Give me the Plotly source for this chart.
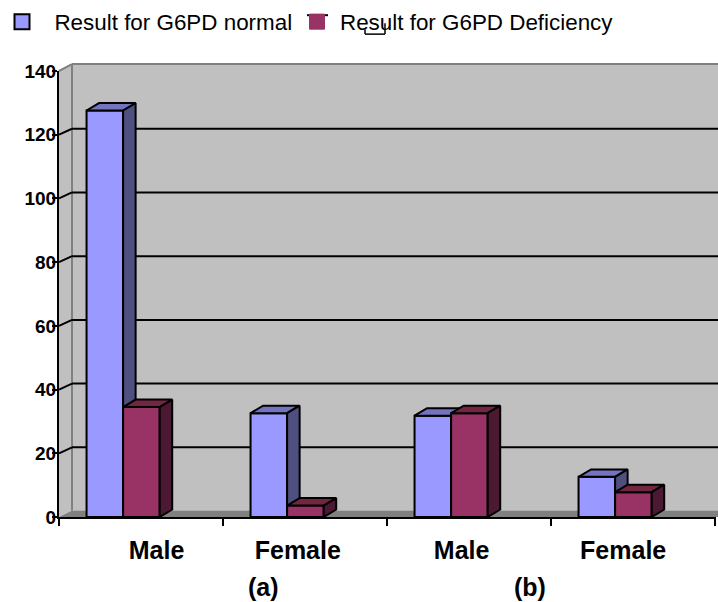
import plotly.graph_objects as go

categories = ["Male", "Female", "Male", "Female"]
panel_labels = ["(a)", "(b)"]
normal_name = "Result for G6PD normal"
deficiency_name = "Result for G6PD Deficiency"
normal_values = [127.6, 32.6, 31.8, 12.6]
deficiency_values = [34.5, 3.6, 32.6, 7.8]
y_ticks = [0, 20, 40, 60, 80, 100, 120, 140]

W, H = 718, 602
L, R, T, B = 59, 716, 70, 517.5
X_UNIT = 164.0
X_MAX = (R - L) / X_UNIT
Y_UNIT = (B - T) / 140.0
BAR_W = 0.223
BAR_OFF = 0.168
DX, DY = 12.5 / X_UNIT, 7.5 / Y_UNIT  # bar depth in data units
LABEL_X = [0.595, 1.456, 2.455, 3.44]
PANEL_X = [1.245, 2.87]

BLUE, BLUE_TOP, BLUE_SIDE = "#9999FF", "#7373BF", "#4F4F80"
RED, RED_TOP, RED_SIDE = "#993366", "#732640", "#4C1933"
WALL, FLOOR, EDGE = "#C0C0C0", "#808080", "#000000"


def px(x):
    return (x - L) / (R - L)


def py(y):
    return (B - y) / (B - T)


def poly(pts, fill, line=None, width=0, layer="below"):
    path = "M" + "L".join(f"{px(x):.5f},{py(y):.5f}" for x, y in pts) + "Z"
    return dict(type="path", xref="paper", yref="paper", path=path, fillcolor=fill,
                line=dict(color=line or fill, width=width), layer=layer)


def seg(x0, y0, x1, y1, color=EDGE, width=2, layer="below"):
    return dict(type="line", xref="paper", yref="paper", x0=px(x0), y0=py(y0), x1=px(x1), y1=py(y1),
                line=dict(color=color, width=width), layer=layer)


shapes = [
    poly([(59, 70), (72, 63), (718, 63), (718, 511), (72, 511), (59, 517.5)], WALL),
    poly([(59, 517.5), (72, 511), (718, 511), (718, 517.5)], FLOOR),
    seg(72, 63, 718, 63, FLOOR, 2),
    seg(72, 63, 72, 511, FLOOR, 2),
    seg(59, 70, 72, 63, FLOOR, 2),
]
for v in y_ticks[1:-1]:
    yy = B - v * Y_UNIT
    shapes.append(seg(59, yy, 72, yy - 6, EDGE, 2))
    shapes.append(seg(72, yy - 6, 718, yy - 6, EDGE, 2))

# stray marks in the legend of the source picture
shapes += [
    seg(307, 14, 328, 14, EDGE, 2, "above"),
    seg(365, 28, 365, 33, EDGE, 1.5, "above"),
    seg(385, 22, 385, 33, EDGE, 1.5, "above"),
    seg(365, 33, 385, 33, EDGE, 1.5, "above"),
]


def faces(values, shift, top, side, xa, ya):
    out = []
    for i, v in enumerate(values):
        x0 = i + BAR_OFF + shift
        x1 = x0 + BAR_W
        for xs, ys, c in [
            ([x0, x0 + DX, x1 + DX, x1, x0], [v, v + DY, v + DY, v, v], top),
            ([x1, x1 + DX, x1 + DX, x1, x1], [v, v + DY, DY, 0, v], side),
        ]:
            out.append(go.Scatter(x=xs, y=ys, mode="lines", fill="toself", fillcolor=c,
                                  line=dict(color=EDGE, width=2), xaxis=xa, yaxis=ya,
                                  showlegend=False, hoverinfo="skip", cliponaxis=False))
    return out


fig = go.Figure()
fig.add_trace(go.Bar(x=[i + BAR_OFF for i in range(4)], y=normal_values, width=BAR_W, offset=0,
                     marker=dict(color=BLUE, line=dict(color=EDGE, width=2)), showlegend=False,
                     xaxis="x", yaxis="y", cliponaxis=False))
for t in faces(normal_values, 0, BLUE_TOP, BLUE_SIDE, "x", "y"):
    fig.add_trace(t)
fig.add_trace(go.Bar(x=[i + BAR_OFF + BAR_W for i in range(4)], y=deficiency_values, width=BAR_W, offset=0,
                     marker=dict(color=RED, line=dict(color=EDGE, width=2)), showlegend=False,
                     xaxis="x2", yaxis="y2", cliponaxis=False))
for t in faces(deficiency_values, BAR_W, RED_TOP, RED_SIDE, "x2", "y2"):
    fig.add_trace(t)

# legend entries
fig.add_trace(go.Scatter(x=[None], y=[None], mode="markers", name="\u00a0\u00a0" + normal_name, legend="legend",
                         marker=dict(symbol="square", size=15, color=BLUE, line=dict(color=EDGE, width=2))))
fig.add_trace(go.Scatter(x=[None], y=[None], mode="markers", name=deficiency_name, legend="legend2",
                         marker=dict(symbol="square", size=15, color=RED, line=dict(color=RED, width=1))))

font = "Liberation Sans, Arial, sans-serif"
annotations = [dict(x=x, y=0, xref="x", yref="paper", yshift=-70, text=f"<b>{t}</b>", showarrow=False,
                    font=dict(family=font, size=25, color="black"), yanchor="middle")
               for x, t in zip(PANEL_X, panel_labels)]

fig.update_layout(
    width=W, height=H, autosize=False, barmode="overlay",
    margin=dict(l=L, r=W - R, t=T, b=H - B, pad=0),
    paper_bgcolor="white", plot_bgcolor="rgba(0,0,0,0)",
    font=dict(family=font, color="black"),
    shapes=shapes, annotations=annotations,
    xaxis=dict(range=[0, X_MAX], tickvals=[0, 1, 2, 3, 4], ticktext=[""] * 5, ticks="outside", ticklen=7,
               tickwidth=2, tickcolor=EDGE, showline=True, linecolor=EDGE, linewidth=2, showgrid=False, zeroline=False),
    xaxis2=dict(range=[0, X_MAX], overlaying="x", side="bottom", tickvals=LABEL_X,
                ticktext=[f"<b>{c}</b>" for c in categories], ticks="", showline=False, showgrid=False,
                zeroline=False, tickfont=dict(family=font, size=25, color="black"), ticklabelstandoff=16),
    yaxis=dict(range=[0, 140], tickvals=y_ticks, ticktext=[f"<b>{v}</b>" for v in y_ticks], ticks="outside",
               ticklen=5, tickwidth=2, tickcolor=EDGE, showline=True, linecolor=EDGE, linewidth=2,
               showgrid=False, zeroline=False, tickfont=dict(family=font, size=19, color="black"),
               ticklabelstandoff=-8),
    yaxis2=dict(range=[0, 140], overlaying="y", visible=False),
    legend=dict(x=px(2), y=py(0.5), xanchor="left", yanchor="top", itemwidth=30, orientation="h",
                bgcolor="rgba(0,0,0,0)", font=dict(family=font, size=22.4, color="black")),
    legend2=dict(x=px(294), y=py(0.5), xanchor="left", yanchor="top", itemwidth=36, orientation="h",
                 bgcolor="rgba(0,0,0,0)", font=dict(family=font, size=22.4, color="black")),
)
fig.write_html("out.html", config={"displayModeBar": False},
               post_script="document.body.style.margin='0';window.dispatchEvent(new Event('resize'));")
